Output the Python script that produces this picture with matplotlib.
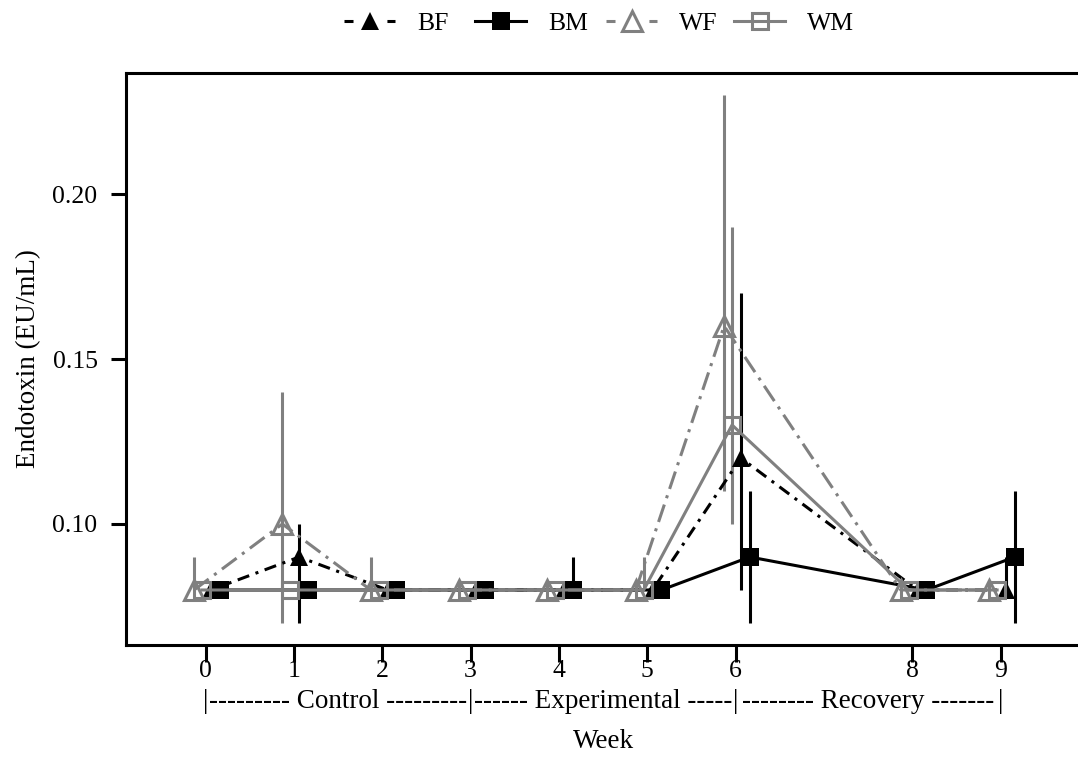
import matplotlib
matplotlib.use("Agg")
import matplotlib.pyplot as plt
import numpy as np
from matplotlib.lines import Line2D

plt.rcParams['font.family'] = ['Liberation Serif', 'DejaVu Serif']

weeks = [0, 1, 2, 3, 4, 5, 6, 8, 9]
tick_labels = ["0", "1", "2", "3", "4", "5", "6", "8", "9"]

BF = [0.08, 0.09, 0.08, 0.08, 0.08, 0.08, 0.12, 0.08, 0.08]
BF_lo = [0.08, 0.07, 0.08, 0.08, 0.08, 0.08, 0.08, 0.08, 0.08]
BF_hi = [0.08, 0.10, 0.08, 0.08, 0.08, 0.08, 0.17, 0.08, 0.09]

BM = [0.08, 0.08, 0.08, 0.08, 0.08, 0.08, 0.09, 0.08, 0.09]
BM_lo = [0.08, 0.08, 0.08, 0.08, 0.08, 0.08, 0.07, 0.08, 0.07]
BM_hi = [0.08, 0.08, 0.08, 0.08, 0.09, 0.08, 0.11, 0.08, 0.11]

WF = [0.08, 0.10, 0.08, 0.08, 0.08, 0.08, 0.16, 0.08, 0.08]
WF_lo = [0.08, 0.07, 0.08, 0.08, 0.08, 0.08, 0.11, 0.08, 0.08]
WF_hi = [0.09, 0.14, 0.09, 0.08, 0.08, 0.08, 0.23, 0.08, 0.08]

WM = [0.08, 0.08, 0.08, 0.08, 0.08, 0.08, 0.13, 0.08, 0.08]
WM_lo = [0.08, 0.08, 0.08, 0.08, 0.08, 0.08, 0.10, 0.08, 0.08]
WM_hi = [0.08, 0.08, 0.08, 0.08, 0.08, 0.09, 0.19, 0.08, 0.08]

phases = ["--------- Control ---------", "------ Experimental -----", "-------- Recovery -------"]
phase_centers = [1.5, 4.5, 7.5]
phase_bounds = [0, 3, 6, 9]

GRAY = "#808080"
FS = 18.5
FS2 = 19.5
LW = 2.2

series = [
    ("BF", BF, BF_lo, BF_hi, 0.06, "black", (0, (4, 2.2, 1, 2.2)), "^", True, 13),
    ("BM", BM, BM_lo, BM_hi, 0.16, "black", "-", "s", True, 12.5),
    ("WF", WF, WF_lo, WF_hi, -0.13, GRAY, (0, (6, 2.2, 1, 2.2)), "^", False, 15),
    ("WM", WM, WM_lo, WM_hi, -0.04, GRAY, "-", "s", False, 12),
]
legend_x = [344, 475, 606, 734]

fig = plt.figure(figsize=(10.78, 7.82), dpi=100)
ax = fig.add_axes([126 / 1078, 1 - 645 / 782, (1089 - 126) / 1078, (645 - 73) / 782])

for (name, vals, lo, hi, off, col, ls, mk, filled, ms), lx in zip(series, legend_x):
    x = np.array(weeks) + off
    v = np.array(vals)
    ax.vlines(x, lo, hi, colors=col, lw=LW, zorder=2)
    style = dict(color=col, lw=LW, marker=mk, markersize=ms,
                 markerfacecolor=col if filled else "none",
                 markeredgecolor=col, markeredgewidth=0 if filled else 2.2)
    ax.plot(x, v, ls=ls, zorder=3, label=name, **style)
    hls = (0, (2.95, 11.1)) if ls != "-" else "-"
    proxy = Line2D([], [], ls=hls, **style)
    leg = fig.legend(handles=[proxy], labels=[name], loc='center left',
                     bbox_to_anchor=(lx / 1078, 1 - 24 / 782), frameon=False, fontsize=FS,
                     handlelength=2.0, handletextpad=0.85, borderpad=0, borderaxespad=0)

ax.set_xlim(-0.9, 10.0)
ax.set_ylim(0.06333, 0.23667)
ax.set_xticks(weeks)
ax.set_xticklabels(tick_labels)
ax.set_yticks([0.10, 0.15, 0.20])
ax.set_yticklabels(["0.10", "0.15", "0.20"])
ax.tick_params(axis='both', labelsize=FS, width=2.2, direction='out')
ax.tick_params(axis='y', length=10.5, pad=10)
ax.tick_params(axis='x', length=12, pad=-1)
for s in ax.spines.values():
    s.set_linewidth(2.2)
ax.set_ylabel("Endotoxin (EU/mL)", fontsize=FS2, labelpad=8)

trans = matplotlib.transforms.blended_transform_factory(ax.transData, ax.transAxes)
ytxt = -(701 - 645) / (645 - 73)
for xb in phase_bounds:
    ax.text(xb, ytxt, "|", transform=trans, ha='center', va='center', fontsize=FS2, clip_on=False)
for xc, lab in zip(phase_centers, phases):
    ax.text(xc, ytxt, lab, transform=trans, ha='center', va='center', fontsize=FS2, clip_on=False)
ax.text(4.5, -(741 - 645) / (645 - 73), "Week", transform=trans, ha='center', va='center',
        fontsize=FS2, clip_on=False)

fig.savefig("out.png", dpi=100)
